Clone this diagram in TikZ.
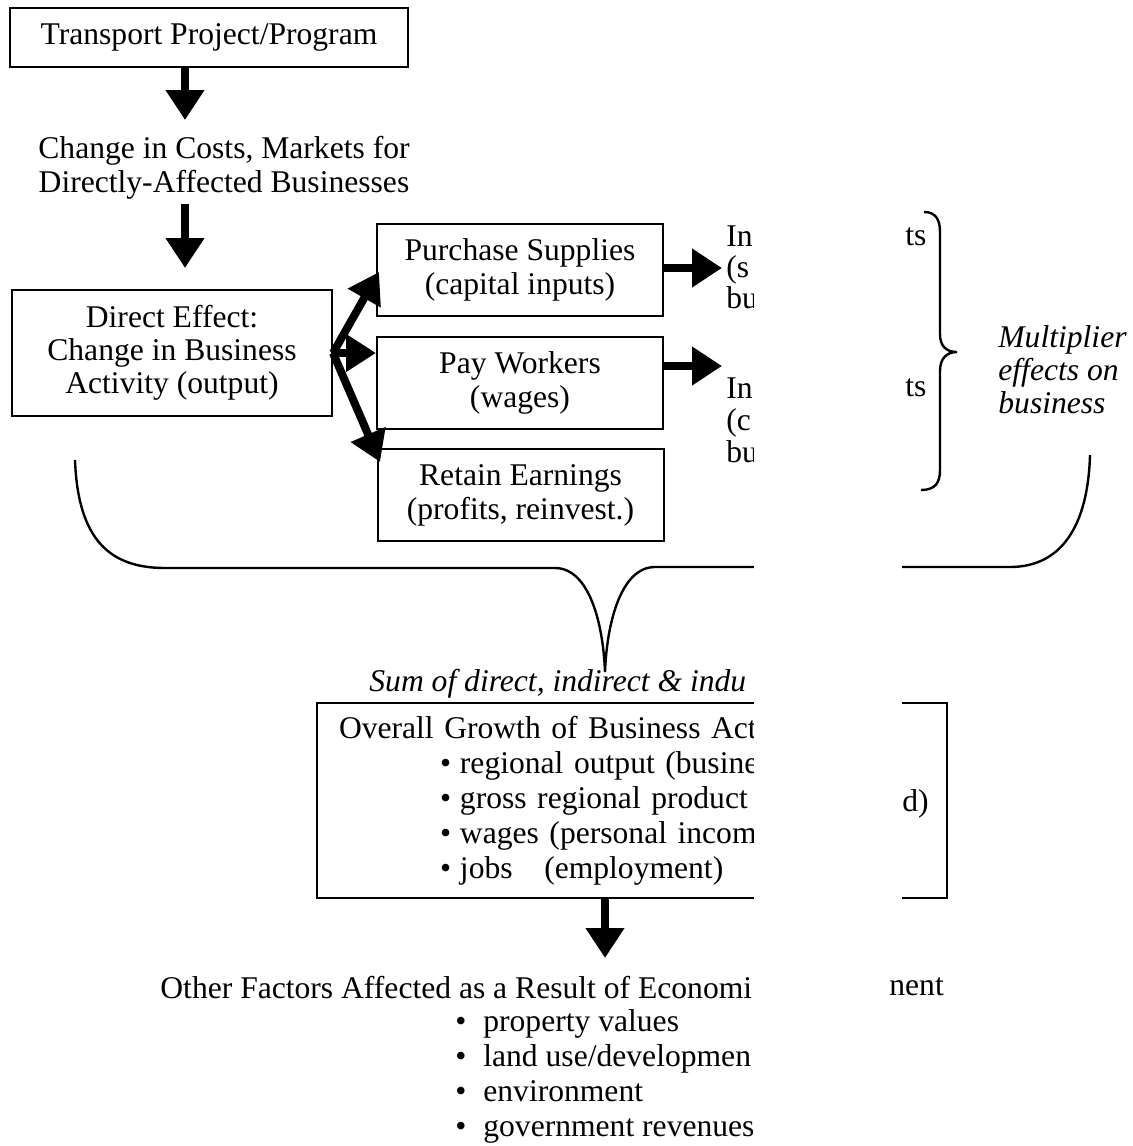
\documentclass[tikz,border=0pt]{standalone}
\usepackage{fontspec}
\setmainfont{Liberation Serif}
\usetikzlibrary{arrows.meta}
\newcommand{\figfont}{\fontsize{15.8pt}{17pt}\selectfont}
\newcommand{\bul}{\makebox[10pt][l]{\textbullet}}
\tikzset{
  box/.style={draw,line width=1pt,minimum width=143pt,minimum height=46pt,align=center,inner sep=0pt},
  bigarrow/.style={line width=4pt,-{Triangle[length=15pt,width=18.5pt]}},
  brace/.style={line width=1.2pt}
}

\begin{document}
\begin{tikzpicture}[x=0.5pt,y=-0.5pt,font=\figfont]
    \useasboundingbox (0,0) rectangle (1133,1146);
    % chain on the left =====================================
    \node[box,minimum width=199pt,minimum height=29.5pt] (proj)   at (209,37.5) {Transport Project/Program};
    \node[align=center,inner sep=0pt] (chg) at (224,168) {Change in Costs, Markets for\\Directly-Affected Businesses};
    \node[box,minimum width=160pt,minimum height=63pt,font=\fontsize{15.8pt}{16.5pt}\selectfont] (direct) at (172,353) {Direct Effect:\\Change in Business\\Activity (output)};
    \coordinate (a1) at (185,120);
    \coordinate (a2) at (185,268);
    \draw[bigarrow] (proj.south -| a1) -- (a1);
    \draw[bigarrow] (chg.south -| a2) ++(0,4) -- (a2);
    % spending of the business ==============================
    \node[box] (buy)  at (520,270)   {Purchase Supplies\\(capital inputs)};
    \node[box] (pay)  at (520,383)   {Pay Workers\\(wages)};
    \node[box] (keep) at (520.5,495) {Retain Earnings\\(profits, reinvest.)};
    \coordinate (f1) at (379,272);
    \coordinate (f3) at (380,462);
    \draw[bigarrow,-{Triangle[length=15pt,width=18pt]}] (direct.east) -- (f1);
    \draw[bigarrow,-{Triangle[length=15pt,width=18pt]}] (direct.east) -- (pay.west |- direct.east);
    \draw[bigarrow,-{Triangle[length=15pt,width=18pt]}] (direct.east) -- (f3);
    \coordinate (t1) at (722,268);
    \coordinate (t2) at (722,366);
    \draw[bigarrow] (buy.east |- t1) -- (t1);
    \draw[bigarrow] (pay.east |- t2) -- (t2);
    \node[anchor=west,align=left,inner sep=0pt,font=\fontsize{15.8pt}{15.5pt}\selectfont] (ind1) at (726,267) {In\\(s\\bu};
    \node[anchor=west,align=left,inner sep=0pt,font=\fontsize{15.8pt}{16pt}\selectfont] (ind2) at (726,420) {In\\(c\\bu};
    % multiplier brace ======================================
    \draw[brace] (924,212) .. controls (936,212) and (940,220) .. (940,232) -- (940,334)
          .. controls (940,347) and (947,352) .. (957,352)
          .. controls (947,352) and (940,358) .. (940,371) -- (940,470)
          .. controls (940,483) and (935,490) .. (921,490);
    \node[anchor=west,align=left,inner sep=0pt,font=\fontsize{15.8pt}{16.5pt}\selectfont\itshape] (mult) at (998,370) {Multiplier\\effects on\\business};
    % summing brace =========================================
    \draw[brace] (75,460) .. controls (78,540) and (110,568) .. (165,568) -- (555,568)
          .. controls (588,568) and (603,620) .. (605,672)
          .. controls (607,620) and (622,567) .. (655,567) -- (1010,567)
          .. controls (1062,567) and (1088,525) .. (1090,455);
    \node[anchor=west,inner sep=0pt,font=\figfont\itshape] (sum) at (369,684) {Sum of direct, indirect \& indu};
    % totals ================================================
    \node[box,minimum width=315pt,minimum height=97.5pt,text width=293pt,align=left,
          font=\fontsize{15.8pt}{17.5pt}\selectfont] (growth) at (632,800.5)
          {Overall Growth of Business Acti\\
           \hspace*{50.5pt}\bul regional output (busine\\
           \hspace*{50.5pt}\bul gross regional product\\
           \hspace*{50.5pt}\bul wages (personal incom\\
           \hspace*{50.5pt}\bul jobs\ \ \ (employment)};
    \coordinate (a3) at (605,958);
    \draw[bigarrow] (growth.south -| a3) -- (a3);
    \node[anchor=west,inner sep=0pt] (other) at (160,988) {Other Factors Affected as a Result of Economi};
    \node[anchor=west,align=left,inner sep=0pt,font=\fontsize{15.8pt}{17.5pt}\selectfont] (items) at (455,1076.5)
          {\makebox[14pt][l]{\textbullet}property values\\
           \makebox[14pt][l]{\textbullet}land use/developmen\\
           \makebox[14pt][l]{\textbullet}environment\\
           \makebox[14pt][l]{\textbullet}government revenues};
    % blank strip of the scan
    \fill[white] (754,195) rectangle (902,1146);
    \node[anchor=west,inner sep=0pt] (ts1) at (905,237) {ts};
    \node[anchor=west,inner sep=0pt] (ts2) at (905,388) {ts};
    \node[anchor=west,inner sep=0pt] (dd) at (902,804) {d)};
    \node[anchor=west,inner sep=0pt] (nent) at (889,987) {nent};
\end{tikzpicture}
\end{document}
